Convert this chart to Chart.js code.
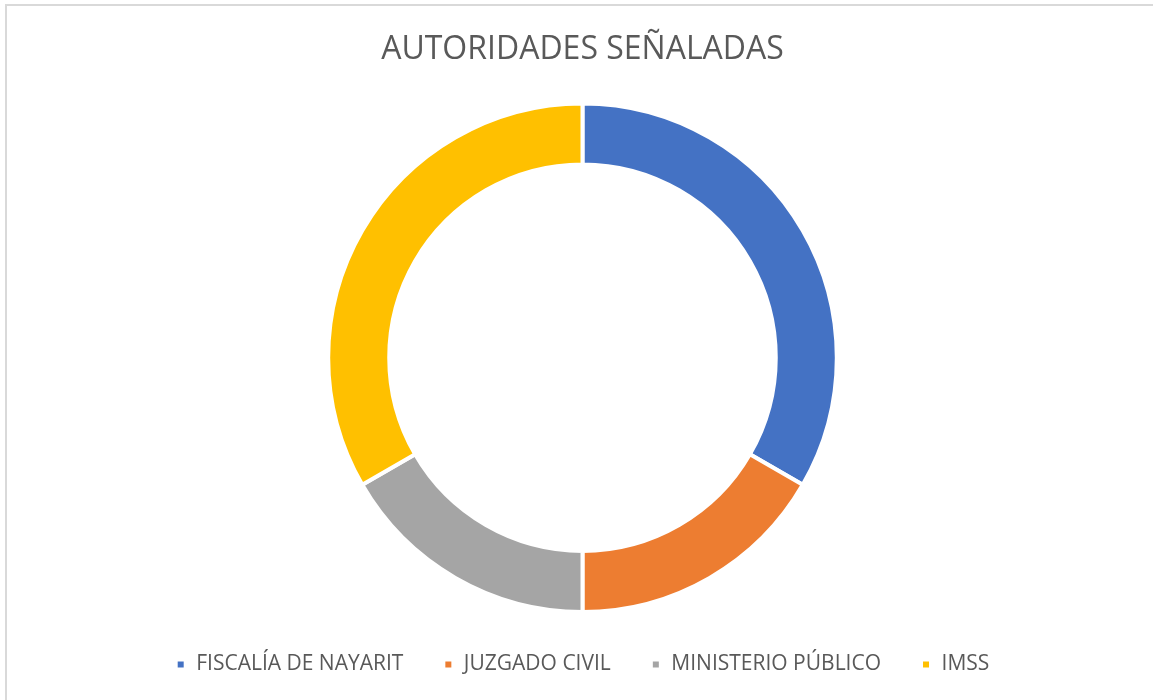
<!DOCTYPE html>
<html>
<head>
<meta charset="utf-8">
<script src="https://cdn.jsdelivr.net/npm/chart.js@4/dist/chart.umd.min.js"></script>
<style>
  html, body { margin: 0; padding: 0; background: #fff; overflow: hidden; }
  #frame {
    position: absolute; left: 5px; top: 4px;
    width: 1300px; height: 800px;
    border: 2px solid #d9d9d9;
  }
  #wrap { position: absolute; left: 0; top: 0; width: 1153px; height: 700px; }
</style>
</head>
<body>
<div id="frame"></div>
<div id="wrap"><canvas id="myChart"></canvas></div>
<script>
// autoridades señaladas
const labels = ['FISCALÍA DE NAYARIT', 'JUZGADO CIVIL', 'MINISTERIO PÚBLICO', 'IMSS'];
const values = [2, 1, 1, 2];
const colors = ['#4472C4', '#ED7D31', '#A5A5A5', '#FFC000'];

const textColor = '#595959';
const fontFamily = "'Open Sans', 'Noto Sans', sans-serif";

var ctx = document.getElementById('myChart').getContext('2d');
var myChart = new Chart(ctx, {
    type: 'doughnut',
    data: {
        labels: labels,
        datasets: [{
            data: values,
            backgroundColor: colors,
            borderColor: '#ffffff',
            borderWidth: 4
        }]
    },
    options: {
        responsive: true,
        maintainAspectRatio: false,
        animation: false,
        cutout: '76%',
        layout: { padding: { left: 12, right: 0, top: 0, bottom: 15 } },
        plugins: {
            title: {
                display: true,
                text: 'AUTORIDADES SEÑALADAS',
                color: textColor,
                font: { family: fontFamily, size: 32, weight: 'normal' },
                padding: { top: 31, bottom: 32 }
            },
            legend: {
                position: 'bottom',
                labels: {
                    color: textColor,
                    font: { family: fontFamily, size: 21 },
                    boxWidth: 10,
                    boxHeight: 10,
                    padding: 40
                }
            },
            tooltip: { enabled: false }
        }
    }
});
</script>
</body>
</html>
